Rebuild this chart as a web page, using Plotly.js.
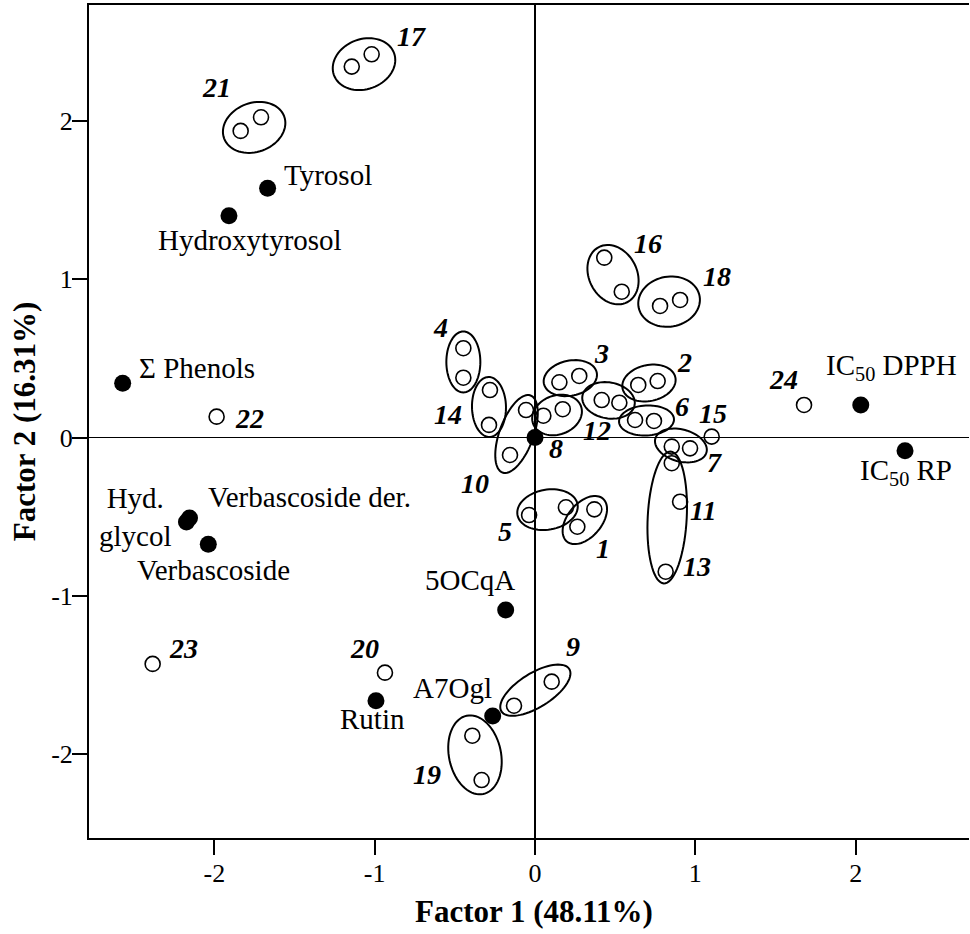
<!DOCTYPE html>
<html><head><meta charset="utf-8">
<script src="https://cdn.plot.ly/plotly-3.0.1.min.js"></script>
<style>body{margin:0;background:#fff}#chart{width:970px;height:934px}</style>
</head><body><div id="chart"></div>
<script>
// ---------- DATA ----------
// samples: two replicates per sample (second replicate null when only one point)
const sampleLabels = ['1','2','3','4','5','6','7','8','9','10','11','12','13','14','15','16','17','18','19','20','21','22','23','24'];
const sampleX1 = [0.370, 0.644, 0.152,-0.447,-0.037, 0.624, 0.853, 0.052, 0.104,-0.056, 0.905, 0.416, 0.853,-0.281, 1.102, 0.432,-1.143, 0.780,-0.391,-0.936,-1.836,-1.986,-2.385, 1.678];
const sampleY1 = [-0.453,0.332, 0.349, 0.564,-0.489, 0.111,-0.057, 0.138,-1.541, 0.174,-0.405, 0.237,-0.162, 0.300, 0.006, 1.136, 2.342, 0.831,-1.882,-1.484, 1.936, 0.132,-1.429, 0.206];
const sampleX2 = [0.264, 0.765, 0.276,-0.447, 0.193, 0.742, 0.967, 0.173,-0.131,-0.156, null, 0.526, 0.815,-0.287, null, 0.541,-1.019, 0.905,-0.333, null,-1.709, null, null, null];
const sampleY2 = [-0.563,0.357, 0.389, 0.378,-0.440, 0.105,-0.068, 0.179,-1.693,-0.110, null, 0.220,-0.847, 0.080, null, 0.921, 2.420, 0.869,-2.162, null, 2.022, null, null, null];

// variables (filled points)
const varLabels = ['Tyrosol','Hydroxytyrosol','Σ Phenols','Hyd.<br>glycol','Verbascoside der.','Verbascoside','5OCqA','Rutin','A7Ogl','IC<sub>50</sub> DPPH','IC<sub>50</sub> RP',''];
const varX = [-1.668,-1.909,-2.572,-2.174,-2.155,-2.038,-0.183,-0.992,-0.264, 2.032, 2.308, 0.000];
const varY = [ 1.574, 1.401, 0.343,-0.533,-0.508,-0.674,-1.088,-1.661,-1.758, 0.206,-0.083, 0.000];

// axis ticks
const tickVals = [-2,-1,0,1,2];
const tickText = ['-2','-1','0','1','2'];
const xTitle = 'Factor 1 (48.11%)';
const yTitle = 'Factor 2 (16.31%)';

// ---------- STYLE ----------
const W = 970, H = 934;
const M = {l:89, r:1, t:5, b:96};
const xRange = [-2.782, 2.707];
const yRange = [-2.528, 2.731];
const kx = (W - M.l - M.r) / (xRange[1] - xRange[0]);
const ky = (H - M.t - M.b) / (yRange[1] - yRange[0]);

// ellipse style per sample: [semiMajor px, semiMinor px, angle deg (ccw), centre shift dx px, dy px (screen)]
const ellStyle = {
 '1':[28,17,50,-1,2], '2':[27,18,12,1,0], '3':[27,17.5,12,1,-1], '4':[30.5,17,90,0,-1],
 '5':[30.5,20,10,0,-1.5], '6':[27.5,15,3,2,0], '7':[26.5,16,-15,0,-2], '8':[25.5,19.5,20,4,2.5],
 '9':[40,17,32,2.5,-3.5], '10':[41,17,70,-1.5,1.5], '12':[26.5,18,-10,-2,-1], '13':[66,19.5,87,-1.5,0],
 '14':[30,17,91,-0.5,-0.5], '16':[31,24,-63,0,0], '17':[32,25,20,2.3,3.7], '18':[31,25,10,-1,-1.3],
 '19':[40,26,102,-2,-3], '21':[32,24.5,20,3.3,3.3]
};
// sample label offsets from sample centre (screen px)
const sLabOff = {
 '1':[17.5,30],'2':[37,-21],'3':[32,-26],'4':[-23,-35],'5':[-42.5,20.5],'6':[37,-14],'7':[34,15.5],
 '8':[3,36],'9':[40,-47],'10':[-43,51],'11':[23,8.5],'12':[-14,29],'13':[28,49],'14':[-41,7.5],
 '15':[1.5,-23.5],'16':[35,-31],'17':[50,-24],'18':[47,-26],'19':[-50,17],'20':[-20,-24.5],
 '21':[-34,-37],'22':[32.5,1.5],'23':[30.5,-15.5],'24':[-20.5,-25]
};
// variable label offsets [dx, dy, xanchor]
const vLabOff = [
 [14,-13,'left'],[21,24,'center'],[14,-15,'left'],[-51,-5,'center'],[16,-21,'left'],[5,26,'center'],
 [-36,-30,'center'],[-3,18,'center'],[-40,-28,'center'],[31,-38,'center'],[0.5,21.5,'center'],[0,0,'center']
];

const serif = 'Liberation Serif';

// ---------- BUILD ----------
const openX = [], openY = [];
for (let i=0;i<sampleLabels.length;i++){
  openX.push(sampleX1[i]); openY.push(sampleY1[i]);
  if (sampleX2[i]!==null){ openX.push(sampleX2[i]); openY.push(sampleY2[i]); }
}

const traces = [
 {type:'scatter', mode:'markers', x:openX, y:openY, hoverinfo:'x+y',
  marker:{symbol:'circle-open', size:15, color:'#000', line:{width:1.6, color:'#000'}}, showlegend:false},
 {type:'scatter', mode:'markers', x:varX, y:varY, text:varLabels, hoverinfo:'text',
  marker:{symbol:'circle', size:17, color:'#000'}, showlegend:false}
];

function centre(i){
  if (sampleX2[i]===null) return [sampleX1[i], sampleY1[i]];
  return [(sampleX1[i]+sampleX2[i])/2, (sampleY1[i]+sampleY2[i])/2];
}

const shapes = [];
sampleLabels.forEach((lab,i)=>{
  const st = ellStyle[lab];
  if (!st) return;
  const c = centre(i);
  const cx = c[0] + st[3]/kx, cy = c[1] - st[4]/ky;
  const th = st[2]*Math.PI/180;
  let d = '';
  const N = 72;
  for (let k=0;k<=N;k++){
    const p = 2*Math.PI*k/N;
    const u = st[0]*Math.cos(p)*Math.cos(th) - st[1]*Math.sin(p)*Math.sin(th);
    const v = st[0]*Math.cos(p)*Math.sin(th) + st[1]*Math.sin(p)*Math.cos(th);
    const x = cx + u/kx, y = cy + v/ky;
    d += (k===0?'M':'L') + x.toFixed(5) + ',' + y.toFixed(5);
  }
  d += 'Z';
  shapes.push({type:'path', path:d, xref:'x', yref:'y', line:{color:'#000', width:2}, layer:'above'});
});

const annotations = [];
sampleLabels.forEach((lab,i)=>{
  const c = centre(i);
  const o = sLabOff[lab];
  annotations.push({x:c[0], y:c[1], xref:'x', yref:'y', text:'<b><i>'+lab+'</i></b>', showarrow:false,
    xshift:o[0], yshift:-o[1], xanchor:'center', yanchor:'middle',
    font:{family:serif, size:28, color:'#000'}});
});
varLabels.forEach((lab,i)=>{
  if (!lab) return;
  const o = vLabOff[i];
  annotations.push({x:varX[i], y:varY[i], xref:'x', yref:'y', text:lab, showarrow:false,
    xshift:o[0], yshift:-o[1], xanchor:o[2], yanchor:'middle', align:'center',
    font:{family:serif, size:29, color:'#000'}});
});
// x-axis title drawn as a paper annotation for exact placement
annotations.push({x:0.506, y:-0.0885, xref:'paper', yref:'paper', text:'<b>'+xTitle+'</b>', showarrow:false,
  xanchor:'center', yanchor:'middle', font:{family:serif, size:31, color:'#000'}});

const axisCommon = {
  showgrid:false, zeroline:true, zerolinecolor:'#000', zerolinewidth:1.5,
  showline:true, linecolor:'#000', linewidth:2,
  ticks:'outside', ticklen:15, tickwidth:2, tickcolor:'#000',
  tickmode:'array', tickvals:tickVals, ticktext:tickText,
  tickfont:{family:serif, size:26, color:'#000'}, automargin:false, fixedrange:true
};

const layout = {
  width:W, height:H, margin:M, paper_bgcolor:'#fff', plot_bgcolor:'#fff', showlegend:false,
  xaxis:Object.assign({}, axisCommon, {range:xRange, mirror:true, ticklabelstandoff:-4}),
  yaxis:Object.assign({}, axisCommon, {range:yRange, ticklabelstandoff:-6,
     title:{text:'<b>'+yTitle+'</b>', font:{family:serif, size:31, color:'#000'}, standoff:6}}),
  shapes:shapes, annotations:annotations
};

Plotly.newPlot('chart', traces, layout, {displayModeBar:false, staticPlot:true});
</script></body></html>
